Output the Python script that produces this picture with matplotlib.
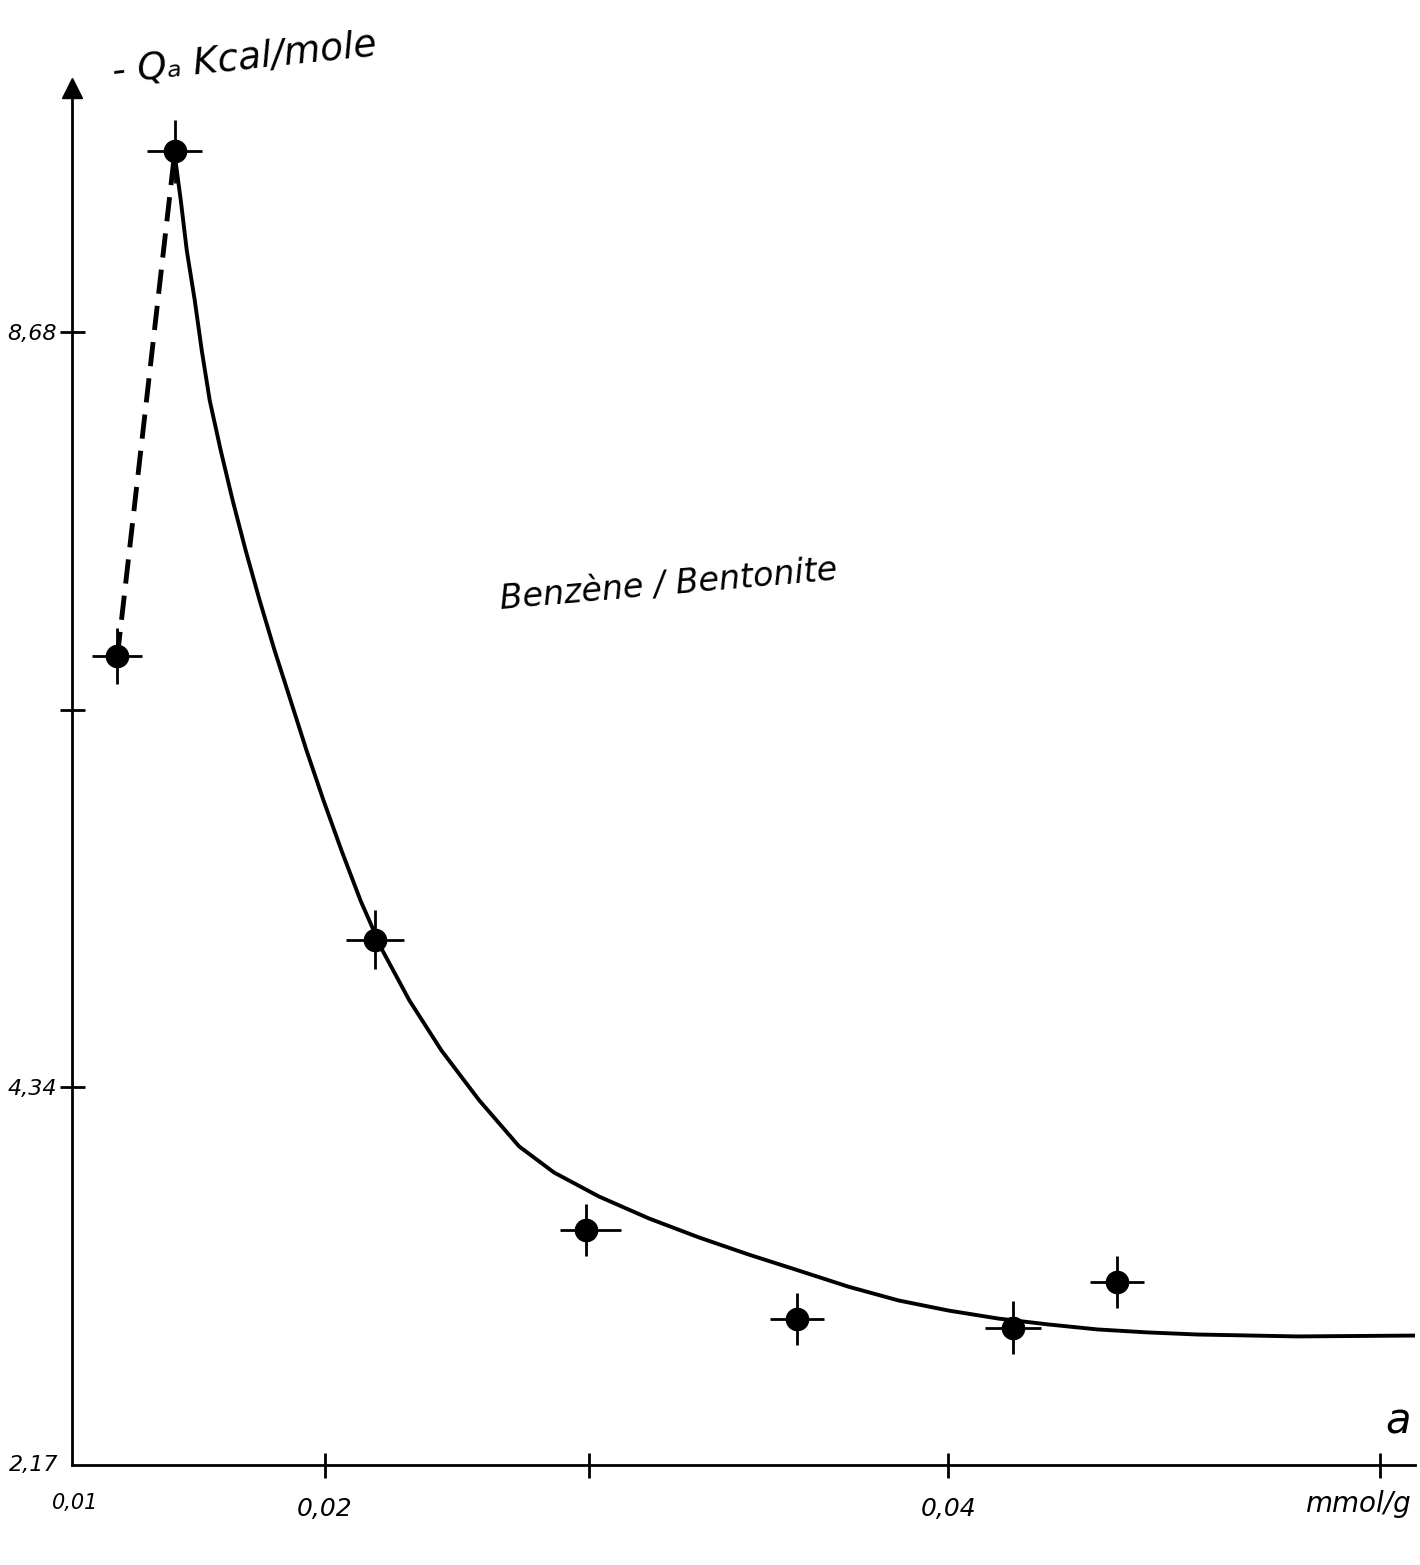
import numpy as np
import matplotlib
matplotlib.use('Agg')
import matplotlib.pyplot as plt

# mesures -Qa (Kcal/mole) en fonction de a (mmol/g), Benzène / Bentonite
a_mes = [0.0117, 0.0140, 0.0219, 0.0299, 0.0358, 0.0415, 0.0439]
q_mes = [6.82, 9.72, 5.19, 3.52, 3.01, 2.96, 3.22]
a_err = [0.0010, 0.0011, 0.0011, 0.0010, 0.00075, 0.00065, 0.00062]
q_err = [0.16, 0.18, 0.17, 0.15, 0.15, 0.15, 0.15]

a_courbe = [0.0140, 0.01424, 0.01448, 0.0148, 0.01508, 0.0154, 0.01584, 0.01632,
            0.01684, 0.0174, 0.0180, 0.01864, 0.01928, 0.01996, 0.02064, 0.02136,
            0.02219, 0.02321, 0.02442, 0.02585, 0.02736, 0.02868, 0.03028, 0.03167,
            0.03306, 0.03444, 0.03583, 0.03722, 0.03861, 0.0400, 0.04115, 0.04231,
            0.04346, 0.04462, 0.04577, 0.04808, 0.05079]
q_courbe = [9.698, 9.439, 9.151, 8.864, 8.577, 8.289, 8.002, 7.714, 7.427, 7.140,
            6.852, 6.565, 6.277, 5.990, 5.703, 5.415, 5.128, 4.840, 4.553, 4.266,
            4.001, 3.851, 3.713, 3.587, 3.478, 3.380, 3.288, 3.195, 3.116, 3.058,
            3.012, 2.978, 2.949, 2.932, 2.920, 2.909, 2.914]

# graduations de l'axe a (espacement irrégulier du papier)
x_grad_val = [0.0, 0.01, 0.02, 0.03, 0.04, 0.05, 0.06]
x_grad_rel = [-250, 0, 250, 515, 875, 1308, 1741]
x_ticks = [0.02, 0.03, 0.04, 0.05]
x_labels = ['0,02', '', '0,04', '']
y_ticks = [4.34, 6.51, 8.68]
y_labels = ['4,34', '', '8,68']


def fwd(x):
    return np.interp(x, x_grad_val, x_grad_rel)


def inv(p):
    return np.interp(p, x_grad_rel, x_grad_val)


hand = {'family': 'DejaVu Sans', 'style': 'italic'}

fig = plt.figure(figsize=(14.2, 15.65), dpi=100)
ax = fig.add_axes([0.0507, 0.0639, 0.9458, 0.880])
ax.set_xscale('function', functions=(fwd, inv))
ax.set_xlim(0.00988, 0.0508)
ax.set_ylim(2.17, 10.086)

ax.plot(a_courbe, q_courbe, color='black', lw=2.8, solid_capstyle='round',
        solid_joinstyle='round')
ax.plot(a_mes[:2], q_mes[:2], color='black', lw=3.5, ls=(0, (5, 2.5)))
ax.errorbar(a_mes, q_mes, xerr=a_err, yerr=q_err, fmt='o', ms=16,
            color='black', elinewidth=2, capsize=0)

for s in ['top', 'right']:
    ax.spines[s].set_visible(False)
for s in ['left', 'bottom']:
    ax.spines[s].set_linewidth(2)

ax.set_xticks(x_ticks)
ax.set_xticklabels(x_labels, **hand)
ax.set_yticks(y_ticks)
ax.set_yticklabels(y_labels, **hand)
ax.xaxis.set_minor_locator(plt.NullLocator())
ax.tick_params(axis='both', direction='inout', length=18, width=2)
ax.tick_params(axis='x', pad=14, labelsize=18)
ax.tick_params(axis='y', pad=2, labelsize=16)

# flèche de l'axe des ordonnées
ax.plot(0, 1, marker='^', ms=14, color='black', transform=ax.transAxes, clip_on=False)

ax.annotate('2,17', xy=(0, 2.17), xycoords=('axes fraction', 'data'),
            xytext=(-10, 0), textcoords='offset points', ha='right', va='center',
            fontsize=16, **hand)
ax.annotate('0,01', xy=(0.01, 0), xycoords=('data', 'axes fraction'),
            xytext=(0, -20), textcoords='offset points', ha='center', va='top',
            fontsize=15, **hand)
ax.annotate('mmol/g', xy=(0.05, 0), xycoords=('data', 'axes fraction'),
            xytext=(-16, -18), textcoords='offset points', ha='center', va='top',
            fontsize=20, **hand)
ax.annotate('a', xy=(1, 0), xycoords='axes fraction',
            xytext=(-12, 16), textcoords='offset points', ha='center', va='bottom',
            fontsize=30, **hand)

fig.text(0.078, 0.962, '- Qₐ Kcal/mole', fontsize=27, rotation=6,
         ha='left', va='center', **hand)
ax.text(0.03222, 7.23, 'Benzène / Bentonite', fontsize=24, rotation=5,
        ha='center', va='center', **hand)

fig.savefig('out.png', dpi=100, facecolor='white')
